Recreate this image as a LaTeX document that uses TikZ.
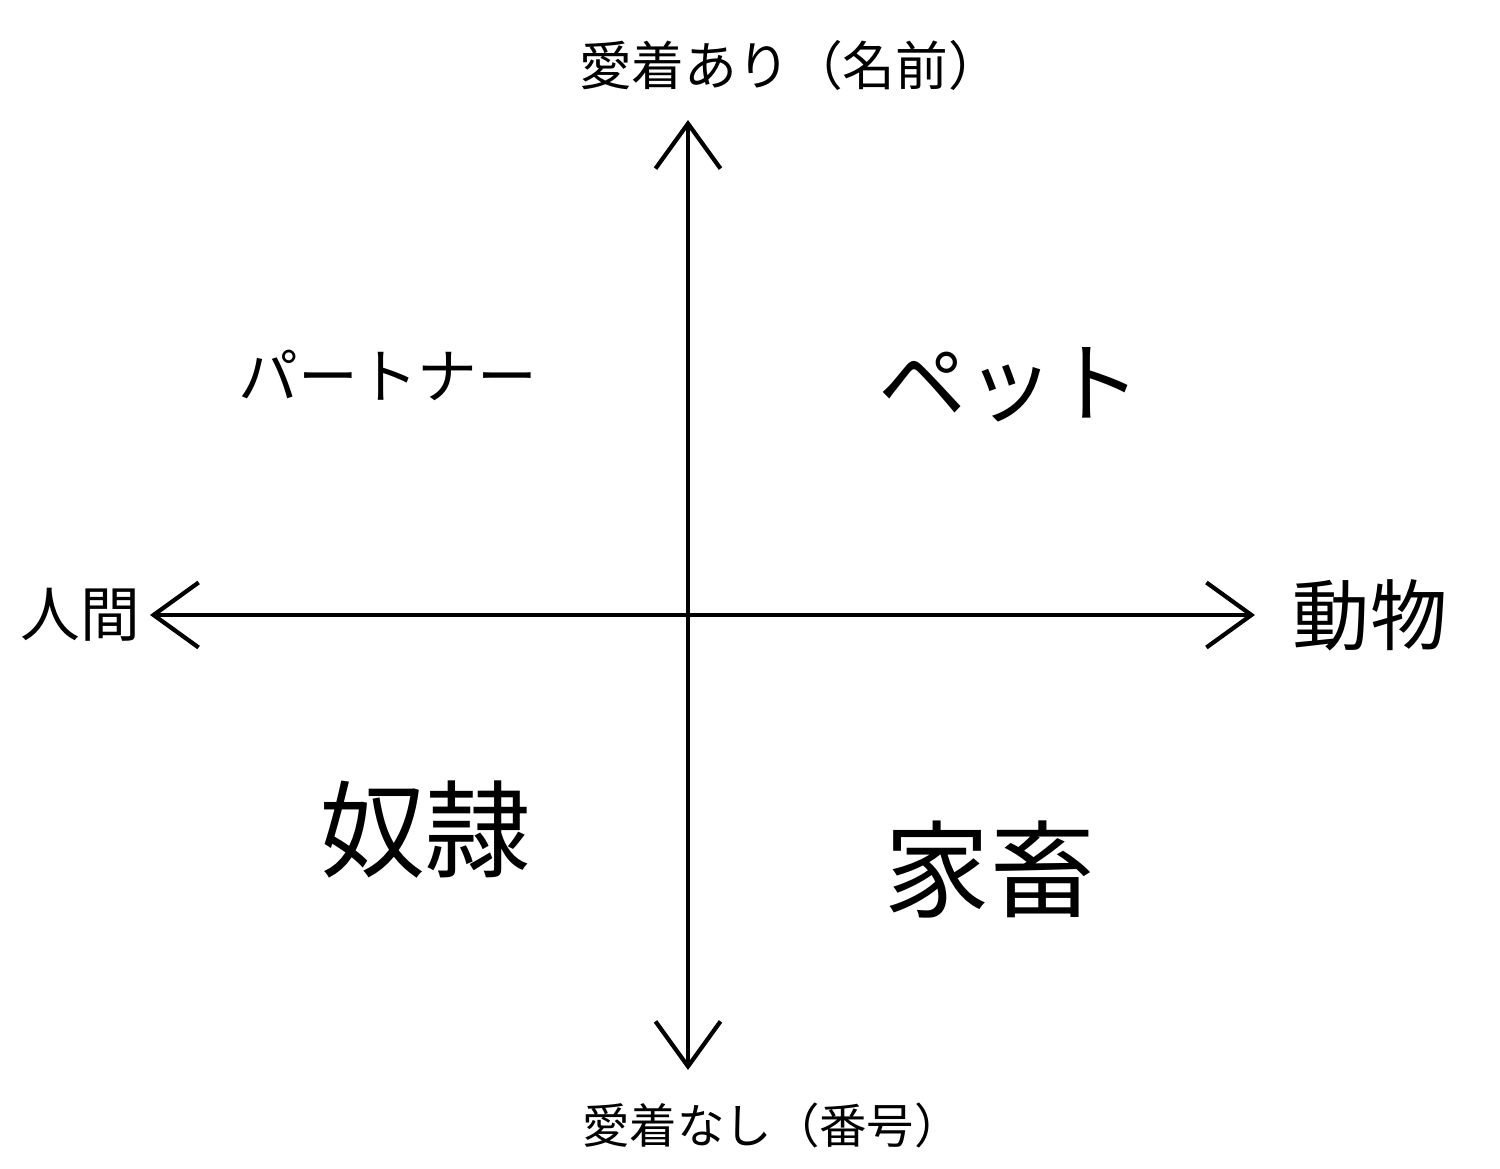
\documentclass[tikz,border=0pt]{standalone}
\usepackage{fontspec}
\setmainfont{Noto Sans CJK JP}
\usetikzlibrary{arrows.meta,positioning}

\begin{document}
\begin{tikzpicture}[axis/.style={line width=1.4pt, {Straight Barb[length=4.5mm,width=6.5mm,line width=1.2pt]}-{Straight Barb[length=4.5mm,width=6.5mm,line width=1.2pt]}},
    quad/.style={font=\fontsize{30}{32}\selectfont},
    pole/.style={font=\fontsize{15}{17}\selectfont}]
        \useasboundingbox (0,0) rectangle (15,11.68);

        \coordinate (top) at (6.88,10.48) ;
        \coordinate (bottom) at (6.88,0.98) ;
        \coordinate (left) at (1.5,5.53) ;
        \coordinate (right) at (12.55,5.53) ;

        \node[pole] (ari) at (7.9,11.03) {愛着あり（名前）} ;
        \node[pole, font=\fontsize{13.5}{15}\selectfont] (nashi) at (7.72,0.43) {愛着なし（番号）} ;
        \node[pole, font=\fontsize{17}{19}\selectfont] (ningen) at (0.8,5.53) {人間} ;
        \node[pole, font=\fontsize{22}{24}\selectfont] (doubutsu) at (13.7,5.53) {動物} ;

        \node[quad, font=\fontsize{17}{19}\selectfont] (partner) at (3.88,7.93) {パートナー} ;
        \node[quad, font=\fontsize{25}{27}\selectfont] (pet) at (10.1,7.83) {ペット} ;
        \node[quad] (dorei) at (4.25,3.38) {奴隷} ;
        \node[quad] (kachiku) at (9.9,2.98) {家畜} ;

        \draw[axis] (bottom) -- (top) ;
        \draw[axis] (left) -- (right) ;
    \end{tikzpicture}
\end{document}
